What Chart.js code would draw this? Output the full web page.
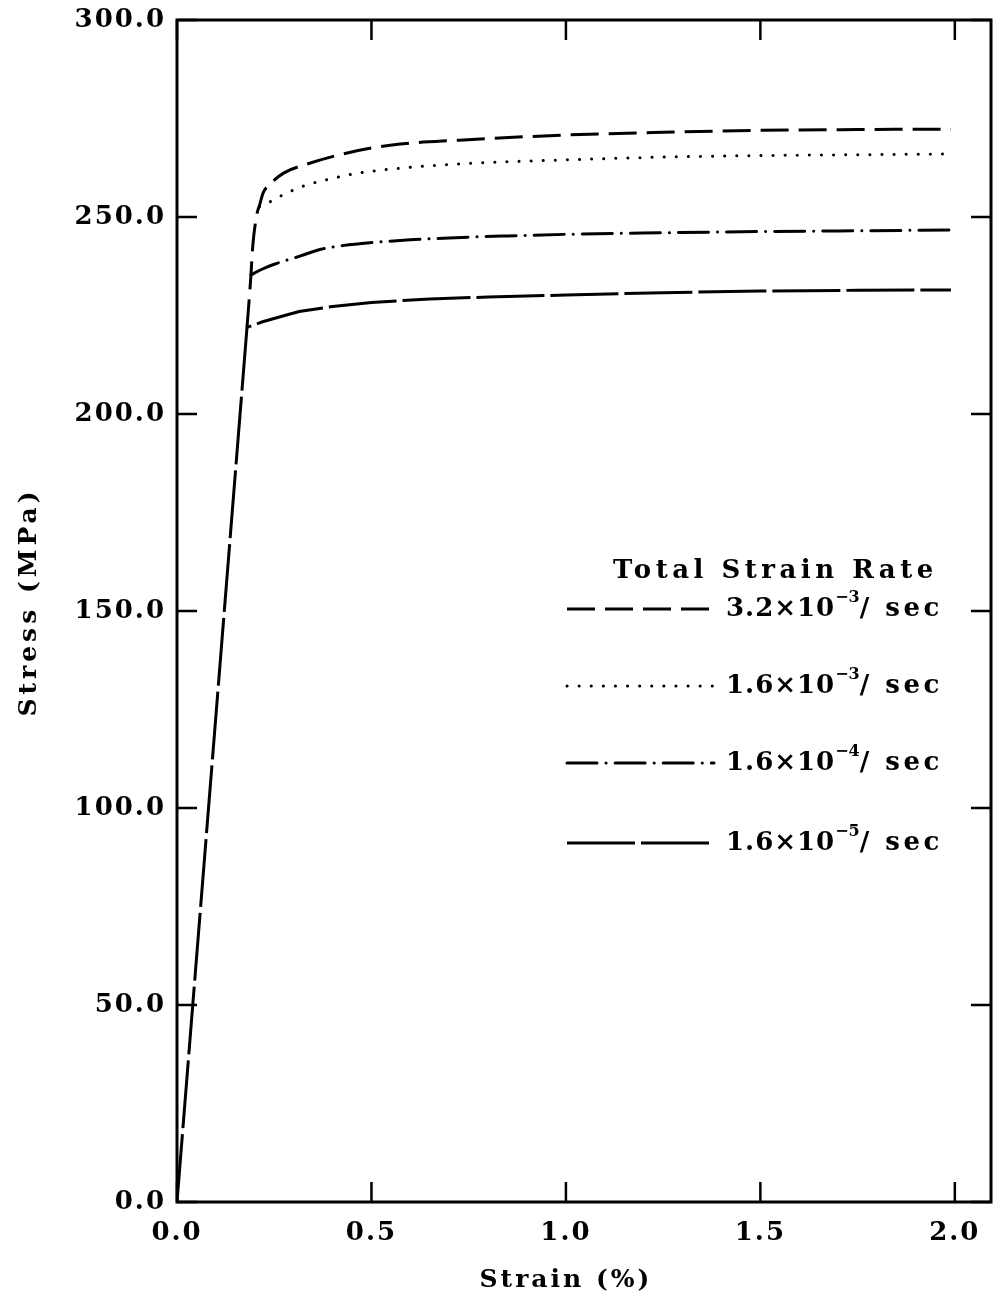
<!DOCTYPE html>
<html>
<head>
<meta charset="utf-8">
<script src="https://cdn.jsdelivr.net/npm/chart.js@4.4.0/dist/chart.umd.min.js"></script>
<style>
  html, body { margin: 0; padding: 0; background: #fff; }
  #wrap { width: 996px; height: 1308px; }
</style>
</head>
<body>
<div id="wrap"><canvas id="stressChart" width="996" height="1308"></canvas></div>
<script>
// strain (%) / stress (MPa) per total strain rate.
// the elastic line is drawn once (slowest rate), the others branch off it
const strain_32e3 = [0.180, 0.190, 0.194, 0.204, 0.214, 0.221, 0.242, 0.275, 0.330, 0.435, 0.553, 0.726, 1.00, 1.25, 1.50, 1.75, 1.99];
const stress_32e3 = [222, 235, 241.6, 250, 253.6, 256, 258.6, 261.2, 263.3, 266.2, 268.3, 269.5, 270.8, 271.5, 272.0, 272.2, 272.3];

const strain_16e3 = [0.212, 0.232, 0.280, 0.330, 0.400, 0.470, 0.600, 0.730, 1.00, 1.25, 1.50, 1.75, 1.99];
const stress_16e3 = [252.6, 253.5, 256.0, 258.0, 259.8, 261.2, 262.6, 263.5, 264.5, 265.2, 265.6, 265.8, 266.0];

const strain_16e4 = [0.190, 0.22, 0.25, 0.314, 0.37, 0.43, 0.50, 0.60, 0.70, 0.85, 1.00, 1.25, 1.50, 1.75, 1.99];
const stress_16e4 = [235.3, 236.8, 238.0, 240.0, 241.8, 242.8, 243.5, 244.2, 244.7, 245.2, 245.6, 246.0, 246.3, 246.5, 246.7];

const strain_16e5 = [0, 0.180, 0.22, 0.27, 0.314, 0.40, 0.50, 0.65, 0.80, 1.00, 1.25, 1.50, 1.75, 1.99];
const stress_16e5 = [0, 222, 223.4, 224.8, 226.0, 227.3, 228.3, 229.2, 229.7, 230.2, 230.8, 231.2, 231.4, 231.5];

const rate_Labels = [["3.2×10", "−3"], ["1.6×10", "−3"], ["1.6×10", "−4"], ["1.6×10", "−5"]];
const dash_Styles = [[28, 10], [0.1, 12], [30, 9, 0.1, 9], [68, 6]];

const x_Ticks = [0, 0.5, 1.0, 1.5, 2.0];
const y_Ticks = [0, 50, 100, 150, 200, 250, 300];

const FONT = "'DejaVu Serif', serif";

function toPoints(xs, ys) {
    return xs.map((x, i) => ({ x: x, y: ys[i] }));
}

const all_Series = [
    toPoints(strain_32e3, stress_32e3),
    toPoints(strain_16e3, stress_16e3),
    toPoints(strain_16e4, stress_16e4),
    toPoints(strain_16e5, stress_16e5)
];

// letter spacing is part of the canvas state, keep it set before layout and draw
const spacingPlugin = {
    id: "spacing",
    beforeUpdate(chart) { chart.ctx.letterSpacing = "2px"; },
    beforeDraw(chart) { chart.ctx.letterSpacing = "2px"; }
};

// box frame + inward ticks on all four sides
const framePlugin = {
    id: "frame",
    afterDraw(chart) {
        const c = chart.ctx, a = chart.chartArea;
        const xs = chart.scales.x, ys = chart.scales.y;
        c.save();
        c.strokeStyle = "#000";
        c.lineWidth = 3;
        c.strokeRect(a.left, a.top, a.right - a.left, a.bottom - a.top);
        c.lineWidth = 2.5;
        c.beginPath();
        x_Ticks.forEach(v => {
            const px = xs.getPixelForValue(v);
            c.moveTo(px, a.bottom); c.lineTo(px, a.bottom - 20);
            c.moveTo(px, a.top); c.lineTo(px, a.top + 20);
        });
        y_Ticks.forEach(v => {
            const py = ys.getPixelForValue(v);
            c.moveTo(a.left, py); c.lineTo(a.left + 20, py);
            c.moveTo(a.right, py); c.lineTo(a.right - 20, py);
        });
        c.stroke();

        // axis titles, centred on the tick range
        c.fillStyle = "#000";
        c.textAlign = "center";
        c.textBaseline = "middle";
        c.font = "bold 25px " + FONT;
        c.letterSpacing = "3px";
        const midX = (xs.getPixelForValue(0) + xs.getPixelForValue(2)) / 2;
        c.fillText("Strain (%)", midX, 1280);
        c.save();
        c.translate(29, 602);
        c.rotate(-Math.PI / 2);
        c.letterSpacing = "4px";
        c.fillText("Stress (MPa)", 0, 0);
        c.restore();
        c.restore();
    }
};

// legend block inside the plot
const legendPlugin = {
    id: "rateLegend",
    afterDraw(chart) {
        const c = chart.ctx;
        c.save();
        c.fillStyle = "#000";
        c.strokeStyle = "#000";
        c.textBaseline = "middle";
        c.textAlign = "left";
        c.letterSpacing = "4.5px";
        c.font = "bold 26px " + FONT;
        c.fillText("Total Strain Rate", 613, 571);

        const rows = [609, 686, 763, 843];
        rows.forEach((y, i) => {
            c.lineWidth = 3;
            c.lineCap = i === 1 || i === 2 ? "round" : "butt";
            c.setLineDash(dash_Styles[i]);
            c.beginPath();
            c.moveTo(567, y);
            c.lineTo(714, y);
            c.stroke();
            c.setLineDash([]);

            let x = 726;
            c.letterSpacing = "1px";
            c.font = "bold 26px " + FONT;
            c.fillText(rate_Labels[i][0], x, y);
            x += c.measureText(rate_Labels[i][0]).width;
            c.font = "bold 16px " + FONT;
            c.letterSpacing = "0px";
            c.fillText(rate_Labels[i][1], x, y - 11);
            x += c.measureText(rate_Labels[i][1]).width;
            c.font = "bold 26px " + FONT;
            c.letterSpacing = "3.5px";
            c.fillText("/ sec", x, y);
        });
        c.restore();
    }
};

const ctx = document.getElementById("stressChart").getContext("2d");
new Chart(ctx, {
    type: "line",
    data: {
        datasets: all_Series.map((pts, i) => ({
            label: rate_Labels[i].join(""),
            data: pts,
            borderColor: "#000",
            borderWidth: 3,
            borderDash: dash_Styles[i],
            borderCapStyle: i === 1 || i === 2 ? "round" : "butt",
            pointRadius: 0,
            fill: false,
            // slowest rate keeps its sharp elastic corner
            cubicInterpolationMode: i === 3 ? "default" : "monotone",
            tension: i === 3 ? 0 : 0.4
        }))
    },
    options: {
        responsive: false,
        animation: false,
        layout: { padding: { left: 0, top: 20, right: 5, bottom: 0 } },
        plugins: { legend: { display: false }, tooltip: { enabled: false } },
        scales: {
            x: {
                type: "linear",
                min: 0,
                max: 2.093,
                grid: { display: false, drawTicks: false },
                border: { display: false },
                afterFit(scale) {
                    scale.height = 106;
                    scale.paddingLeft = 0;
                    scale.paddingRight = 0;
                },
                ticks: {
                    stepSize: 0.5,
                    includeBounds: false,
                    autoSkip: false,
                    maxRotation: 0,
                    padding: 16,
                    color: "#000",
                    font: { family: FONT, size: 26, weight: "bold" },
                    callback: v => v.toFixed(1)
                }
            },
            y: {
                min: 0,
                max: 300,
                grid: { display: false, drawTicks: false },
                border: { display: false },
                afterFit(scale) {
                    scale.width = 177;
                    scale.paddingTop = 0;
                    scale.paddingBottom = 0;
                },
                ticks: {
                    stepSize: 50,
                    autoSkip: false,
                    padding: 11,
                    color: "#000",
                    font: { family: FONT, size: 26, weight: "bold" },
                    callback: v => v.toFixed(1)
                }
            }
        }
    },
    plugins: [spacingPlugin, framePlugin, legendPlugin]
});
</script>
</body>
</html>
